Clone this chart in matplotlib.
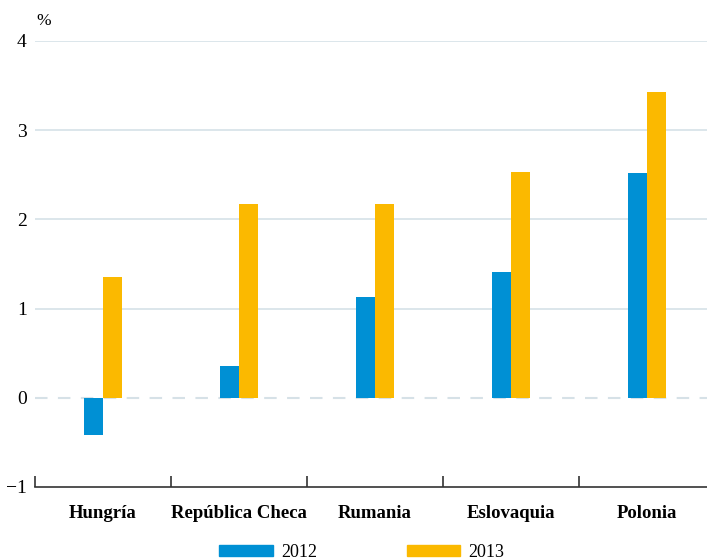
import matplotlib.pyplot as plt
import numpy as np
from matplotlib.patches import Patch

countries = ['Hungría', 'República Checa', 'Rumania', 'Eslovaquia', 'Polonia']
y2012 = [-0.42, 0.36, 1.13, 1.41, 2.52]
y2013 = [1.35, 2.17, 2.17, 2.53, 3.43]
years = ['2012', '2013']

blue = '#0090d4'
yellow = '#fbb900'
grid_col = '#d6e1e7'

plt.rcParams['font.family'] = ['Liberation Serif', 'DejaVu Serif']

fig = plt.figure(figsize=(7.07, 5.6), dpi=100)
ax = fig.add_axes([0.0495, 0.1304, 0.9505, 0.7966])

x = np.arange(len(countries))
w = 0.14
ax.bar(x - w / 2, y2012, width=w, color=blue, zorder=3)
ax.bar(x + w / 2, y2013, width=w, color=yellow, zorder=3)

ax.set_ylim(-1, 4)
ax.set_xlim(-0.5, 4.44)
ax.set_yticks([-1, 0, 1, 2, 3, 4])
ax.set_yticklabels(['\u22121', '0', '1', '2', '3', '4'])
for v in [1, 2, 3, 4]:
    ax.axhline(v, color=grid_col, lw=1.2, zorder=1)
ax.axhline(0, color=grid_col, lw=1.5, ls=(0, (6, 5)), zorder=1)

for s in ['left', 'right', 'top']:
    ax.spines[s].set_visible(False)
ax.spines['bottom'].set_position(('data', -1))
ax.spines['bottom'].set_color('#333333')
ax.spines['bottom'].set_linewidth(1.2)

ax.tick_params(axis='y', length=0, pad=6, labelsize=14)
ax.set_xticks(x)
ax.set_xticklabels(countries, fontweight='bold', fontsize=13.5)
ax.tick_params(axis='x', length=0, pad=13)
ax.set_xticks([-0.5, 0.5, 1.5, 2.5, 3.5], minor=True)
ax.tick_params(axis='x', which='minor', direction='in', length=8, width=1.2, color='#333333')

fig.text(0.052, 0.963, '%', fontsize=12.5, ha='left', va='center')

handles = [Patch(color=blue), Patch(color=yellow)]
fig.legend(handles, years, loc='center', bbox_to_anchor=(0.512, 0.014), ncol=2,
           frameon=False, fontsize=13, handlelength=2.95, handleheight=0.6,
           columnspacing=5.0, handletextpad=0.45)

fig.savefig('out.png', dpi=100)
